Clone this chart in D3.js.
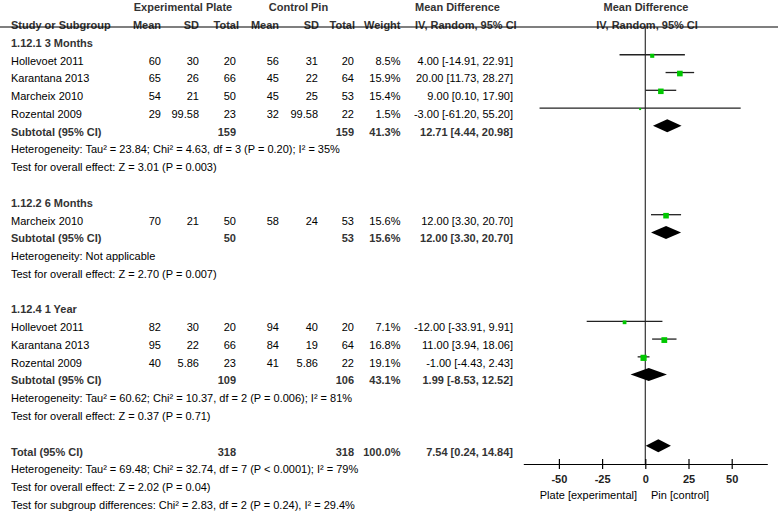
<!DOCTYPE html>
<html>
<head>
<meta charset="utf-8">
<style>
  body { margin: 0; background: #fff; }
  svg text { font-family: "Liberation Sans", Arial, sans-serif; font-size: 11px; fill: #000; }
  svg text.bold { font-weight: bold; fill: #333; }
  svg .ci { stroke: #222; stroke-width: 1.3px; }
  svg .zero { stroke: #333; stroke-width: 1.2px; }
  svg .axis path, svg .axis line { stroke: #000; stroke-width: 1.2px; }
  svg .axis text { font-weight: bold; font-size: 11px; fill: #222; }
</style>
</head>
<body>
<div id="forest"></div>
<script src="https://cdn.jsdelivr.net/npm/d3@7"></script>
<script>
// ---- data ----
var groupLabels = ["1.12.1 3 Months", "1.12.2 6 Months", "1.12.4 1 Year"];

var studyGroup = [0, 0, 0, 0, 1, 2, 2, 2];
var studyNames = ["Hollevoet 2011", "Karantana 2013", "Marcheix 2010", "Rozental 2009",
                  "Marcheix 2010",
                  "Hollevoet 2011", "Karantana 2013", "Rozental 2009"];
var expMean = [60, 65, 54, 29, 70, 82, 95, 40];
var expSD   = ["30", "26", "21", "99.58", "21", "30", "22", "5.86"];
var expN    = [20, 66, 50, 23, 50, 20, 66, 23];
var ctlMean = [56, 45, 45, 32, 58, 94, 84, 41];
var ctlSD   = ["31", "22", "25", "99.58", "24", "40", "19", "5.86"];
var ctlN    = [20, 64, 53, 22, 53, 20, 64, 22];
var weights = [8.5, 15.9, 15.4, 1.5, 15.6, 7.1, 16.8, 19.1];
var md      = [4.00, 20.00, 9.00, -3.00, 12.00, -12.00, 11.00, -1.00];
var ciLow   = [-14.91, 11.73, 0.10, -61.20, 3.30, -33.91, 3.94, -4.43];
var ciHigh  = [22.91, 28.27, 17.90, 55.20, 20.70, 9.91, 18.06, 2.43];

var subExpN   = [159, 50, 109];
var subCtlN   = [159, 53, 106];
var subWeight = [41.3, 15.6, 43.1];
var subMD     = [12.71, 12.00, 1.99];
var subLow    = [4.44, 3.30, -8.53];
var subHigh   = [20.98, 20.70, 12.52];
var subHet = [
  "Heterogeneity: Tau\u00b2 = 23.84; Chi\u00b2 = 4.63, df = 3 (P = 0.20); I\u00b2 = 35%",
  "Heterogeneity: Not applicable",
  "Heterogeneity: Tau\u00b2 = 60.62; Chi\u00b2 = 10.37, df = 2 (P = 0.006); I\u00b2 = 81%"
];
var subTest = [
  "Test for overall effect: Z = 3.01 (P = 0.003)",
  "Test for overall effect: Z = 2.70 (P = 0.007)",
  "Test for overall effect: Z = 0.37 (P = 0.71)"
];

var totalExpN = 318, totalCtlN = 318, totalWeight = 100.0;
var totalMD = 7.54, totalLow = 0.24, totalHigh = 14.84;
var totalNotes = [
  "Heterogeneity: Tau\u00b2 = 69.48; Chi\u00b2 = 32.74, df = 7 (P < 0.0001); I\u00b2 = 79%",
  "Test for overall effect: Z = 2.02 (P = 0.04)",
  "Test for subgroup differences: Chi\u00b2 = 2.83, df = 2 (P = 0.24), I\u00b2 = 29.4%"
];

var axisTicks = [-50, -25, 0, 25, 50];
var favourLeft = "Plate [experimental]";
var favourRight = "Pin [control]";

// ---- layout ----
var width = 778, height = 512;

var svg = d3.select("#forest").append("svg")
    .attr("width", width)
    .attr("height", height);

var rowY = d3.scaleLinear().domain([2, 28]).range([43, 505]);
var xScale = d3.scaleLinear().domain([-70.6, 70.6]).range([523.3, 767.3]);
var sqSize = d3.scaleSqrt().domain([0, 20]).range([0, 6.3]);
var axisY = 464, markShift = -6, diamondHalf = 6.5;

// column right edges
var col = { study: 11, eMean: 161, eSD: 199, eN: 236, cMean: 279, cSD: 318, cN: 354, weight: 400.5, md: 513 };

// plain hyphen minus, like the original (d3.format gives U+2212)
function fmt2(v) { return v.toFixed(2); }
function ciText(m, lo, hi) { return fmt2(m) + " [" + fmt2(lo) + ", " + fmt2(hi) + "]"; }
function pct(w) { return w.toFixed(1) + "%"; }

function txt(x, y, s, anchor, bold) {
  svg.append("text")
    .attr("x", x).attr("y", y).attr("dy", "0.35em")
    .attr("text-anchor", anchor || "start")
    .classed("bold", !!bold)
    .text(s);
}

// build row list
var rows = [];
var r = 2;
groupLabels.forEach(function (g, gi) {
  rows.push({ type: "group", row: r++, label: g });
  studyNames.forEach(function (name, i) {
    if (studyGroup[i] === gi) rows.push({ type: "study", row: r++, i: i });
  });
  rows.push({ type: "sub", row: r++, gi: gi });
  rows.push({ type: "note", row: r++, label: subHet[gi] });
  rows.push({ type: "note", row: r++, label: subTest[gi] });
  r++; // blank row
});
rows.push({ type: "total", row: r++ });
totalNotes.forEach(function (n) { rows.push({ type: "note", row: r++, label: n }); });

// headers
txt(183, rowY(0), "Experimental Plate", "middle", true);
txt(298.5, rowY(0), "Control Pin", "middle", true);
txt(415, rowY(0), "Mean Difference", "start", true);
txt(646, rowY(0), "Mean Difference", "middle", true);

var h2 = rowY(1);
txt(col.study, h2, "Study or Subgroup", "start", true);
txt(col.eMean, h2, "Mean", "end", true);
txt(col.eSD, h2, "SD", "end", true);
txt(239, h2, "Total", "end", true);
txt(col.cMean, h2, "Mean", "end", true);
txt(319, h2, "SD", "end", true);
txt(355, h2, "Total", "end", true);
txt(col.weight, h2, "Weight", "end", true);
txt(415, h2, "IV, Random, 95% CI", "start", true);
txt(647, h2, "IV, Random, 95% CI", "middle", true);

svg.append("line")
  .attr("x1", 0).attr("x2", width)
  .attr("y1", 27).attr("y2", 27)
  .attr("stroke", "#000").attr("stroke-width", 1.2);

// zero line
svg.append("line").classed("zero", true)
  .attr("x1", xScale(0)).attr("x2", xScale(0))
  .attr("y1", 27).attr("y2", axisY);

function diamond(m, lo, hi, yc) {
  var pts = [[xScale(lo), yc], [xScale(m), yc - diamondHalf], [xScale(hi), yc], [xScale(m), yc + diamondHalf]];
  svg.append("polygon")
    .attr("points", pts.map(function (p) { return p.join(","); }).join(" "))
    .attr("fill", "#000");
}

rows.forEach(function (d) {
  var y = rowY(d.row);
  var ym = y + markShift;
  if (d.type === "group") {
    txt(col.study, y, d.label, "start", true);
  } else if (d.type === "note") {
    txt(col.study, y, d.label, "start", false);
  } else if (d.type === "study") {
    var i = d.i;
    txt(col.study, y, studyNames[i]);
    txt(col.eMean, y, expMean[i], "end");
    txt(col.eSD, y, expSD[i], "end");
    txt(col.eN, y, expN[i], "end");
    txt(col.cMean, y, ctlMean[i], "end");
    txt(col.cSD, y, ctlSD[i], "end");
    txt(col.cN, y, ctlN[i], "end");
    txt(col.weight, y, pct(weights[i]), "end");
    txt(col.md, y, ciText(md[i], ciLow[i], ciHigh[i]), "end");
    svg.append("line").classed("ci", true)
      .attr("x1", xScale(ciLow[i])).attr("x2", xScale(ciHigh[i]))
      .attr("y1", ym).attr("y2", ym);
    var s = Math.max(2, sqSize(weights[i]));
    svg.append("rect")
      .attr("x", xScale(md[i]) - s / 2).attr("y", ym + 1 - s / 2)
      .attr("width", s).attr("height", s)
      .attr("fill", "#00c800");
  } else if (d.type === "sub") {
    var g = d.gi;
    txt(col.study, y, "Subtotal (95% CI)", "start", true);
    txt(col.eN, y, subExpN[g], "end", true);
    txt(col.cN, y, subCtlN[g], "end", true);
    txt(col.weight, y, pct(subWeight[g]), "end", true);
    txt(col.md, y, ciText(subMD[g], subLow[g], subHigh[g]), "end", true);
    diamond(subMD[g], subLow[g], subHigh[g], ym);
  } else if (d.type === "total") {
    txt(col.study, y, "Total (95% CI)", "start", true);
    txt(col.eN, y, totalExpN, "end", true);
    txt(col.cN, y, totalCtlN, "end", true);
    txt(col.weight, y, pct(totalWeight), "end", true);
    txt(col.md, y, ciText(totalMD, totalLow, totalHigh), "end", true);
    diamond(totalMD, totalLow, totalHigh, ym);
  }
});

// axis
var xAxis = d3.axisBottom(xScale)
  .tickValues(axisTicks)
  .tickSizeInner(5)
  .tickSizeOuter(0)
  .tickPadding(6)
  .tickFormat(function (d) { return String(d); });

var ax = svg.append("g").classed("axis", true)
  .attr("transform", "translate(0," + axisY + ")")
  .call(xAxis);
ax.selectAll(".tick line").attr("y1", -5);
ax.selectAll(".tick text").attr("font-family", null).attr("font-size", null);

txt(637, 495, favourLeft, "end");
txt(651, 495, favourRight, "start");
</script>
</body>
</html>
